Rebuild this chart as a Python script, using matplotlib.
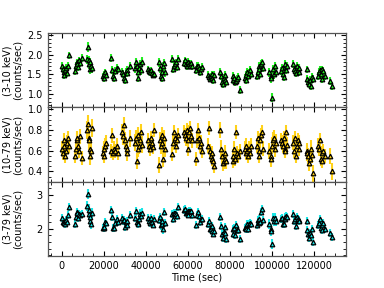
import numpy as np
import matplotlib
matplotlib.use("Agg")
import matplotlib.pyplot as plt
from matplotlib.ticker import MultipleLocator

# ---------------------------------------------------------------------------
# light curve, one inner list per orbit
# ---------------------------------------------------------------------------
time_sec = [
    [0, 400, 800, 1200, 1600, 2000, 2400, 2800, 3400],
    [6200, 6600, 7000, 7400, 7800, 8200, 8800, 9600],
    [11900, 12400, 12700, 13000, 13300, 13600, 13900, 14200],
    [19400, 19800, 20200, 20600, 21000],
    [23400, 24000, 24500, 25000, 25500, 26000, 26500],
    [28800, 29200, 29600, 30000, 30400, 30800, 31200, 32200],
    [34800, 35200, 35600, 36000, 36400, 36800, 37200, 37600, 38000],
    [40800, 41300, 41800, 42300, 42800, 43300, 43800],
    [46200, 46600, 47000, 47400, 47800, 48200, 48600, 49000],
    [52400, 52900, 53400, 53900, 54400, 54900, 55400],
    [58200, 58600, 59000, 59400, 59800, 60200, 60600, 61000, 61400, 61800],
    [63800, 64300, 64800, 65300, 65800, 66300, 66800],
    [69600, 70000, 70400, 70800, 71200, 71600, 72000, 72400],
    [75400, 75800, 76200, 76600, 77000, 77400, 77800, 78200],
    [81200, 81600, 82000, 82400, 82800, 83200, 83600, 84800],
    [87000, 87400, 87800, 88200, 88600, 89000, 89400, 89800],
    [92800, 93200, 93600, 94000, 94400, 94800, 95200, 95600],
    [98600, 99300, 99700, 100100, 100500, 100900, 101300, 101700],
    [104400, 104800, 105200, 105600, 106000, 106400, 106800, 107200],
    [110200, 110600, 111000, 111400, 111800, 112200, 112600, 113000],
    [116400, 116800, 117200, 117600, 118000, 118400, 118800, 119400],
    [122000, 122400, 122800, 123200, 123600, 124000, 124400, 125200],
    [127800, 128300],
]

# 3-10 keV
rate_soft = [
    [1.70, 1.62, 1.55, 1.48, 1.60, 1.66, 1.52, 1.70, 1.98],
    [1.58, 1.72, 1.80, 1.76, 1.68, 1.85, 1.78, 1.92],
    [1.88, 2.20, 1.85, 1.75, 1.62, 1.80, 1.72, 1.65],
    [1.45, 1.40, 1.50, 1.55, 1.48],
    [1.92, 1.60, 1.45, 1.40, 1.58, 1.65, 1.62],
    [1.55, 1.50, 1.40, 1.35, 1.55, 1.60, 1.52, 1.70],
    [1.65, 1.80, 1.70, 1.55, 1.40, 1.65, 1.75, 1.60, 1.82],
    [1.62, 1.58, 1.55, 1.60, 1.52, 1.48, 1.50],
    [1.80, 1.65, 1.45, 1.40, 1.55, 1.70, 1.78, 1.55],
    [1.88, 1.62, 1.70, 1.75, 1.80, 1.68, 1.90],
    [1.78, 1.85, 1.75, 1.70, 1.80, 1.82, 1.76, 1.72, 1.78, 1.70],
    [1.60, 1.72, 1.70, 1.65, 1.55, 1.62, 1.68],
    [1.48, 1.42, 1.38, 1.45, 1.50, 1.40, 1.35, 1.48],
    [1.55, 1.45, 1.30, 1.25, 1.40, 1.48, 1.35, 1.30],
    [1.45, 1.35, 1.40, 1.30, 1.32, 1.38, 1.42, 1.10],
    [1.40, 1.48, 1.35, 1.55, 1.45, 1.52, 1.60, 1.50],
    [1.45, 1.55, 1.70, 1.62, 1.50, 1.75, 1.80, 1.65],
    [1.55, 1.45, 1.40, 0.90, 1.62, 1.50, 1.70, 1.55],
    [1.58, 1.65, 1.50, 1.42, 1.68, 1.75, 1.60, 1.70],
    [1.75, 1.62, 1.58, 1.52, 1.70, 1.60, 1.65, 1.55],
    [1.62, 1.38, 1.30, 1.25, 1.35, 1.20, 1.42, 1.38],
    [1.45, 1.55, 1.60, 1.50, 1.38, 1.62, 1.58, 1.45],
    [1.32, 1.20],
]
err_soft = [0.10, 0.10, 0.12, 0.09, 0.10, 0.10, 0.11, 0.09, 0.11, 0.10, 0.09, 0.10,
            0.09, 0.10, 0.10, 0.10, 0.10, 0.12, 0.10, 0.10, 0.10, 0.10, 0.10]

# 10-79 keV
rate_hard = [
    [0.62, 0.58, 0.65, 0.70, 0.55, 0.60, 0.68, 0.72, 0.65],
    [0.55, 0.62, 0.70, 0.72, 0.65, 0.60, 0.74, 0.53],
    [0.80, 0.86, 0.72, 0.70, 0.62, 0.55, 0.60, 0.82],
    [0.58, 0.62, 0.55, 0.65, 0.68],
    [0.60, 0.75, 0.58, 0.62, 0.60, 0.65, 0.58],
    [0.78, 0.74, 0.85, 0.70, 0.65, 0.62, 0.58, 0.72],
    [0.68, 0.72, 0.50, 0.62, 0.75, 0.65, 0.70, 0.78, 0.66],
    [0.70, 0.65, 0.62, 0.72, 0.68, 0.64, 0.80],
    [0.46, 0.70, 0.65, 0.75, 0.68, 0.52, 0.72, 0.62],
    [0.57, 0.68, 0.78, 0.72, 0.65, 0.70, 0.75],
    [0.78, 0.75, 0.72, 0.80, 0.62, 0.70, 0.78, 0.82, 0.74, 0.70],
    [0.52, 0.70, 0.80, 0.72, 0.65, 0.68, 0.60],
    [0.65, 0.82, 0.60, 0.55, 0.58, 0.52, 0.50, 0.45],
    [0.80, 0.62, 0.55, 0.48, 0.50, 0.58, 0.52, 0.50],
    [0.55, 0.50, 0.62, 0.52, 0.78, 0.58, 0.55, 0.60],
    [0.62, 0.58, 0.65, 0.60, 0.55, 0.62, 0.58, 0.65],
    [0.65, 0.72, 0.60, 0.55, 0.70, 0.75, 0.78, 0.62],
    [0.60, 0.55, 0.52, 0.65, 0.70, 0.72, 0.62, 0.68],
    [0.70, 0.68, 0.65, 0.72, 0.62, 0.60, 0.78, 0.66],
    [0.68, 0.60, 0.72, 0.55, 0.65, 0.70, 0.62, 0.68],
    [0.60, 0.58, 0.55, 0.48, 0.52, 0.62, 0.56, 0.38],
    [0.65, 0.62, 0.70, 0.52, 0.58, 0.50, 0.60, 0.55],
    [0.55, 0.40],
]
err_hard = [0.07, 0.07, 0.09, 0.07, 0.07, 0.08, 0.08, 0.07, 0.08, 0.07, 0.07, 0.07,
            0.07, 0.08, 0.07, 0.07, 0.07, 0.08, 0.07, 0.07, 0.08, 0.07, 0.08]

# 3-79 keV
rate_full = [
    [2.32, 2.20, 2.20, 2.18, 2.15, 2.26, 2.20, 2.42, 2.65],
    [2.13, 2.34, 2.50, 2.48, 2.33, 2.45, 2.40, 2.45],
    [2.68, 3.02, 2.57, 2.45, 2.24, 2.35, 2.15, 2.47],
    [2.03, 2.02, 2.05, 2.20, 2.16],
    [2.55, 2.35, 2.03, 2.02, 2.18, 2.30, 2.20],
    [2.33, 2.24, 2.25, 2.05, 2.20, 2.22, 2.10, 2.42],
    [2.33, 2.52, 2.20, 2.17, 2.15, 2.30, 2.45, 2.38, 2.48],
    [2.32, 2.23, 2.17, 2.32, 2.20, 2.12, 2.30],
    [2.26, 2.35, 2.10, 2.15, 2.23, 1.98, 2.50, 2.17],
    [2.45, 2.30, 2.48, 2.47, 2.45, 2.38, 2.65],
    [2.56, 2.60, 2.47, 2.50, 2.42, 2.52, 2.54, 2.54, 2.52, 2.40],
    [2.12, 2.42, 2.50, 2.37, 2.20, 2.30, 2.28],
    [2.13, 2.24, 1.98, 2.00, 2.08, 1.92, 1.85, 1.93],
    [2.35, 2.07, 1.85, 1.73, 1.90, 2.06, 1.87, 1.70],
    [2.00, 1.85, 2.02, 1.82, 2.10, 1.96, 1.97, 1.70],
    [2.02, 2.06, 2.00, 2.15, 2.00, 2.14, 2.18, 2.15],
    [2.10, 2.27, 2.30, 2.17, 2.20, 2.50, 2.58, 2.27],
    [2.15, 2.00, 1.92, 1.55, 2.32, 2.22, 2.32, 2.23],
    [2.28, 2.33, 2.15, 2.14, 2.30, 2.35, 2.38, 2.36],
    [2.43, 2.22, 2.30, 2.07, 2.35, 2.30, 2.27, 2.23],
    [2.22, 1.96, 1.85, 1.73, 1.87, 1.82, 1.98, 1.60],
    [2.10, 2.17, 2.30, 2.02, 1.96, 2.12, 2.18, 2.00],
    [1.87, 1.75],
]
err_full = [0.12, 0.12, 0.15, 0.11, 0.12, 0.12, 0.13, 0.11, 0.13, 0.12, 0.11, 0.12,
            0.11, 0.12, 0.12, 0.12, 0.12, 0.15, 0.12, 0.12, 0.12, 0.12, 0.12]

bands = [
    ("(3-10 keV)\n(counts/sec)", rate_soft, err_soft, "#22ee22", (0.65, 2.55), 0.5, 0.1),
    ("(10-79 keV)\n(counts/sec)", rate_hard, err_hard, "#ffd21a", (0.30, 1.02), 0.2, 0.05),
    ("(3-79 keV)\n(counts/sec)", rate_full, err_full, "#1ae6e6", (1.18, 3.40), 1.0, 0.2),
]

plt.rcParams["font.size"] = 7

fig, axes = plt.subplots(3, 1, figsize=(3.84, 2.88), dpi=100, sharex=True)
fig.subplots_adjust(left=0.124, right=0.900, top=0.885, bottom=0.111, hspace=0)

n_per_orbit = [len(t) for t in time_sec]
t_all = np.concatenate(time_sec)

for ax, (label, rates, errs, color, ylim, major, minor) in zip(axes, bands):
    y = np.concatenate(rates)
    e = np.repeat(errs, n_per_orbit)
    ax.errorbar(t_all, y, yerr=e, fmt="none", ecolor=color, elinewidth=1.5,
                capsize=0, zorder=2)
    ax.plot(t_all, y, ls="none", marker="^", ms=3.3, mfc=color, mec="black",
            mew=0.9, zorder=3)
    ax.set_ylim(*ylim)
    ax.set_ylabel(label, fontsize=7, linespacing=1.1, labelpad=3)
    ax.yaxis.set_major_locator(MultipleLocator(major))
    ax.yaxis.set_minor_locator(MultipleLocator(minor))
    ax.xaxis.set_major_locator(MultipleLocator(20000))
    ax.xaxis.set_minor_locator(MultipleLocator(5000))
    ax.tick_params(which="both", direction="in", top=True, right=True, labelsize=7)
    ax.tick_params(which="major", length=3.5, width=0.8)
    ax.tick_params(which="minor", length=2, width=0.6)
    for sp in ax.spines.values():
        sp.set_color("#555555")
        sp.set_linewidth(0.9)

axes[0].set_yticks([1.0, 1.5, 2.0, 2.5])
axes[1].set_yticks([0.4, 0.6, 0.8, 1.0])
axes[2].set_yticks([2, 3])
axes[2].set_xlim(-6800, 135000)
axes[2].set_xlabel("Time (sec)", fontsize=7, labelpad=1)
fig.align_ylabels(axes)

fig.savefig("out.png", dpi=100)
